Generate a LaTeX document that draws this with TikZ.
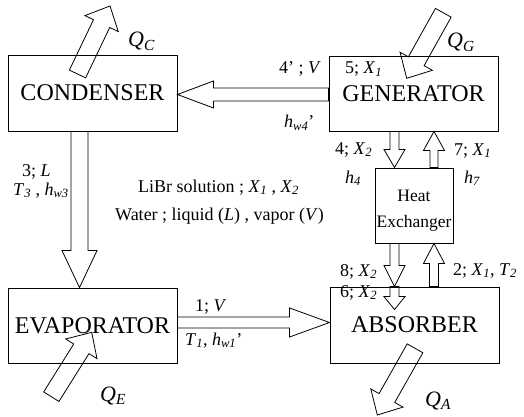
\documentclass[tikz,border=0pt]{standalone}
\usepackage{fontspec}
\setmainfont{Liberation Serif}
\usetikzlibrary{calc}
\newcommand\mysub[1]{\textsubscript{\textit{#1}}}
% hollow block arrow: #1 tail, #2 tip, #3 shaft half-width, #4 head half-width, #5 head length
\newcommand\hollowarrow[5]{%
  \coordinate (hbase) at ($(#2)!#5!(#1)$);
  \draw[harrow] ($(#1)!#3!90:(#2)$) -- ($(hbase)!#3!90:(#2)$) -- ($(hbase)!#4!90:(#2)$) -- (#2)
    -- ($(hbase)!#4!-90:(#2)$) -- ($(hbase)!#3!-90:(#2)$) -- ($(#1)!#3!-90:(#2)$) -- cycle;}
\tikzset{
  box/.style={draw, line width=0.9pt, inner sep=0pt, font=\fontsize{24}{26}\selectfont},
  harrow/.style={draw, line width=0.8pt, line join=miter},
  lab/.style={inner sep=0pt, anchor=base west, font=\fontsize{18}{20}\selectfont},
  qlab/.style={inner sep=0pt, anchor=base west, font=\fontsize{22}{24}\selectfont\itshape},
}
\begin{document}
\begin{tikzpicture}[x=1pt, y=-1pt]
\useasboundingbox (0,0) rectangle (524,417);
% boxes
\node[box, minimum width=169pt, minimum height=76pt] (cond) at (92.5,93) {CONDENSER};
\node[box, minimum width=169pt, minimum height=75pt] (gen) at (413.5,93.5) {GENERATOR};
\node[box, minimum width=169pt, minimum height=75pt] (evap) at (92.5,325.5) {EVAPORATOR};
\node[box, minimum width=169pt, minimum height=76pt] (abs) at (414.5,325) {ABSORBER};
\node[box, minimum width=78pt, minimum height=75pt] (hx) at (414,205.5) {};
\node[inner sep=0pt, align=center, font=\fontsize{17.5}{26}\selectfont] (hxtext)
      at ($(hx.center)+(0,5)$) {Heat\\Exchanger};
% connection points
\coordinate (g4p) at ($(gen.west)+(0,1)$);
\coordinate (c4p) at (cond.east |- g4p);
\coordinate (c3) at ($(cond.south)+(-13,0)$);
\coordinate (e3) at (c3 |- evap.north);
\coordinate (e1) at ($(evap.east)+(0,-3)$);
\coordinate (a1) at (abs.west |- e1);
\coordinate (g4) at ($(gen.south)+(-19,0)$);
\coordinate (h4) at (g4 |- hx.north);
\coordinate (h7) at ($(hx.north)+(20,0)$);
\coordinate (g7) at (h7 |- gen.south);
\coordinate (h8) at (g4 |- hx.south);
\coordinate (b8) at (g4 |- abs.north);
\coordinate (b6) at ($(b8)+(0,23)$);
\coordinate (b2) at (h7 |- abs.north);
\coordinate (h2) at (h7 |- hx.south);
% heat arrows ends
\coordinate (qc1) at (77.5,74);   \coordinate (qc2) at (110,6);
\coordinate (qg1) at (443.3,12.8); \coordinate (qg2) at (406.7,78.3);
\coordinate (qe1) at (51.3,396.7); \coordinate (qe2) at (91.7,332.3);
\coordinate (qa1) at (415,348.3);  \coordinate (qa2) at (377.3,415);
% flow arrows
\hollowarrow{g4p}{c4p}{6.5pt}{13.5pt}{36pt}
\hollowarrow{c3}{e3}{8.5pt}{17.5pt}{37pt}
\hollowarrow{e1}{a1}{5.5pt}{14.5pt}{40pt}
\hollowarrow{g4}{h4}{4.5pt}{10.5pt}{18pt}
\hollowarrow{h7}{g7}{4pt}{10.5pt}{19pt}
\hollowarrow{h8}{b8}{4.5pt}{10.5pt}{21pt}
\hollowarrow{b8}{b6}{4.5pt}{10.5pt}{13pt}
\hollowarrow{b2}{h2}{4.5pt}{10.5pt}{20pt}
% heat arrows
\hollowarrow{qc1}{qc2}{9pt}{18.5pt}{19.5pt}
\hollowarrow{qg1}{qg2}{9pt}{18.5pt}{19.5pt}
\hollowarrow{qe1}{qe2}{9pt}{18.5pt}{19.5pt}
\hollowarrow{qa1}{qa2}{9pt}{18.5pt}{19.5pt}
% heat labels
\node[qlab] (lqc) at (128,47) {Q\textsubscript{C}};
\node[qlab] (lqg) at (447,48) {Q\textsubscript{G}};
\node[qlab] (lqe) at (100,401) {Q\textsubscript{E}};
\node[qlab] (lqa) at (425,406) {Q\textsubscript{A}};
% state labels
\node[lab] (l4p) at (279,74) {4’ ; \textit{V}};
\node[lab] (lhw4) at (284,128) {\textit{h}\mysub{w4}’};
\node[lab] (l5) at (345,74) {5; \textit{X}\mysub{1}};
\node[lab] (l4) at (335,154) {4; \textit{X}\mysub{2}};
\node[lab] (lh4) at (345,183) {\textit{h}\mysub{4}};
\node[lab] (l7) at (454,155) {7; \textit{X}\mysub{1}};
\node[lab] (lh7) at (464,183) {\textit{h}\mysub{7}};
\node[lab] (l8) at (340,276) {8; \textit{X}\mysub{2}};
\node[lab] (l2) at (453,275) {2; \textit{X}\mysub{1}, \textit{T}\mysub{2}};
\node[lab] (l6) at (340,297) {6; \textit{X}\mysub{2}};
\node[lab] (l1) at (195,311) {1; \textit{V}};
\node[lab] (lt1) at (185,345) {\textit{T}\mysub{1}, \textit{h}\mysub{w1}’};
\node[lab] (l3) at (22,176) {3; \textit{L}};
\node[lab] (lt3) at (13,195) {\textit{T}\mysub{3} , \textit{h}\mysub{w3}};
\node[lab] (llibr) at (138,192) {LiBr solution ; \textit{X}\mysub{1} , \textit{X}\mysub{2}};
\node[lab] (lwater) at (115,220) {Water ; liquid (\textit{L}) , vapor (\textit{V})};
\end{tikzpicture}
\end{document}
